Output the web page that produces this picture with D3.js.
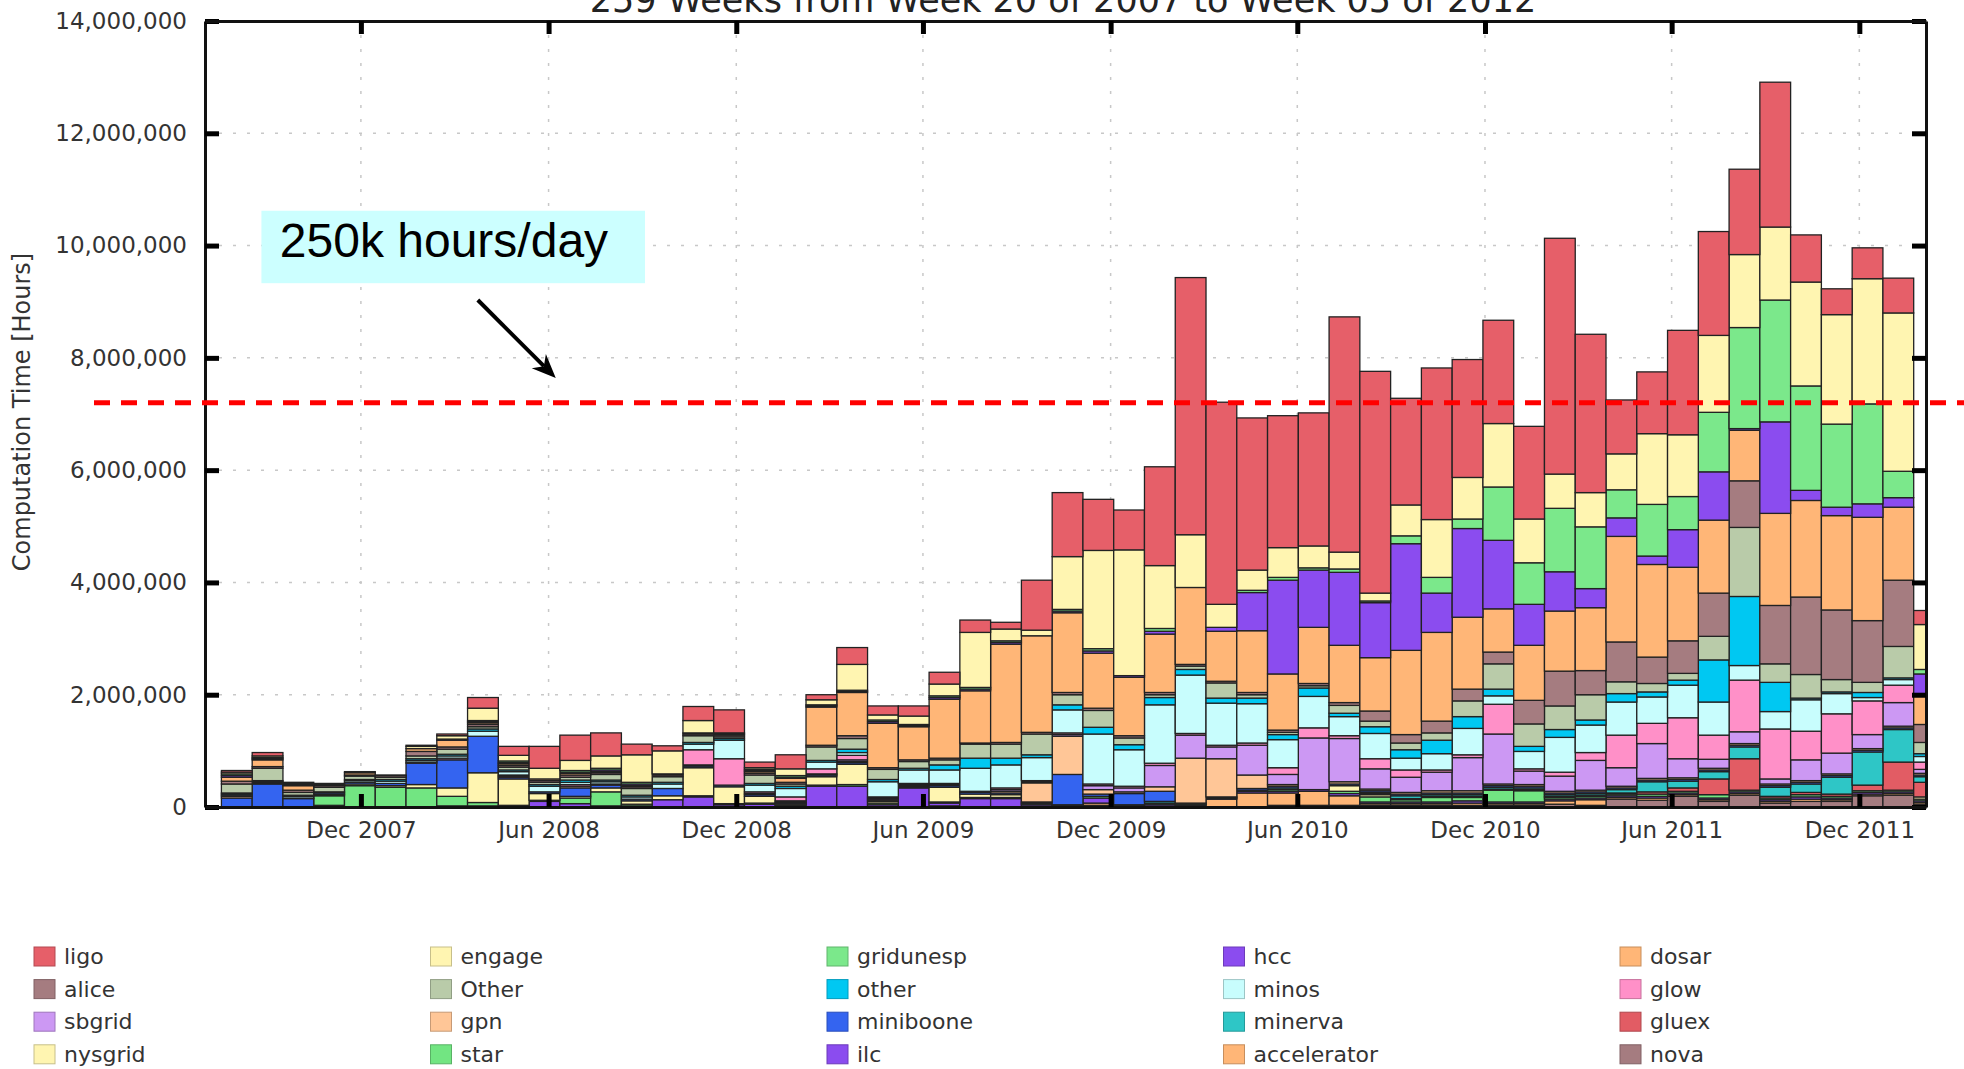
<!DOCTYPE html>
<html>
<head>
<meta charset="utf-8">
<script src="https://cdn.jsdelivr.net/npm/d3@7"></script>
<style>
  body { margin: 0; background: #fff; }
  svg { display: block; }
  text { font-family: "DejaVu Sans", sans-serif; }
</style>
</head>
<body>
<svg id="chart" width="1964" height="1069"></svg>
<script>
// 30-day periods (start dates); the last one is cut off by the end of the range
const periodStarts = [
  '2007-07-18','2007-08-17','2007-09-16','2007-10-16','2007-11-15','2007-12-15','2008-01-14','2008-02-13',
  '2008-03-14','2008-04-13','2008-05-13','2008-06-12','2008-07-12','2008-08-11','2008-09-10','2008-10-10',
  '2008-11-09','2008-12-09','2009-01-08','2009-02-07','2009-03-09','2009-04-08','2009-05-08','2009-06-07',
  '2009-07-07','2009-08-06','2009-09-05','2009-10-05','2009-11-04','2009-12-04','2010-01-03','2010-02-02',
  '2010-03-04','2010-04-03','2010-05-03','2010-06-02','2010-07-02','2010-08-01','2010-08-31','2010-09-30',
  '2010-10-30','2010-11-29','2010-12-29','2011-01-28','2011-02-27','2011-03-29','2011-04-28','2011-05-28',
  '2011-06-27','2011-07-27','2011-08-26','2011-09-25','2011-10-25','2011-11-24','2011-12-24','2012-01-23'
];
const rangeStart = '2007-07-02';
const rangeEnd = '2012-02-04';
const xTickDates = ['2007-12-01','2008-06-01','2008-12-01','2009-06-01','2009-12-01','2010-06-01','2010-12-01','2011-06-01','2011-12-01'];
const yTicks = [0, 2e6, 4e6, 6e6, 8e6, 10e6, 12e6, 14e6];
const targetLine = 7.2e6; // 250k hours/day

// values in millions of hours, one entry per period
const ligo = [.03,.06,.02,0,.02,0,.02,.03,.19,.16, .39,.45,.41,.19,.09,.25,.41,.1,.25,.09, .3,.16,.18,.21,.22,.12,.89,1.14,.91,.71, 1.76,4.58,3.6,2.71,2.35,2.37,4.19,3.95,1.9,2.7, 2.1,1.84,1.65,4.2,2.82,.96,1.1,1.86,1.85,1.52, 2.58,.84,.46,.55,.62,.25];
const engage = [.03,.03,.02,.02,0,0,.04,.06,.22,.1, .19,.18,.22,.49,.41,.22,.02,.03,.12,.09, .46,.09,.15,.21,.98,.21,.1,.94,1.75,2.24, 1.12,.94,.41,.36,.53,.39,.3,.14,.55,1.03, .74,1.13,.78,.61,.61,.64,1.26,1.1,1.37,1.3, 1.3,1.85,1.95,2.23,2.82,.8];
const gridunesp = [.03,.02,0,0,0,0,0,0,.02,.03, 0,.03,.03,.03,0,0,0,.02,.03,.02, .02,.03,.02,.03,.03,.03,0,.03,.04,0, .05,0,0,.04,.05,.04,.06,.03,.14,.28, .17,.95,.74,1.13,1.1,.5,.92,.59,1.06,1.8, 2.17,1.86,1.48,1.78,.47,.08];
const hcc = [.03,.02,.02,0,0,0,0,.02,.02,.02, 0,.02,.03,.03,0,0,0,.02,.02,.02, .02,.03,.02,.03,.03,.03,0,.03,.04,.03, .05,0,.07,.68,1.67,1.02,1.3,.98,1.9,.7, 1.58,1.22,.73,.7,.34,.33,.15,.67,.86,.03, 1.63,.18,.15,.24,.17,.4];
const dosar = [.07,.12,.08,.02,.04,.01,.05,.12,.03,.03, .03,.03,.02,.02,.02,.02,.02,.03,.07,.68, .77,.79,.59,1.05,.93,1.75,1.72,1.42,.98,1.04, 1.04,1.37,.89,1.1,1.0,1.0,1.02,.95,1.5,1.58, 1.28,.77,.98,1.07,1.12,1.88,1.65,1.31,1.3,.9, 1.64,1.72,1.68,1.84,1.3,.5];
const alice = [.05,.03,.04,.03,.02,.03,.08,.04,.04,.03, .03,.04,.03,.03,.03,.03,.03,.03,.03,.03, .05,.03,.03,.03,.02,.03,.03,.04,.04,.04, .04,.03,.03,.04,.04,.04,.05,.18,.15,.21, .21,.21,.42,.62,.43,.71,.47,.58,.77,.83, 1.04,1.38,1.24,1.1,1.18,.32];
const otherUpper = [.16,.22,.05,.08,.06,.04,.05,.09,.04,.05, .04,.05,.1,.12,.1,.12,.03,.15,.04,.24, .19,.18,.12,.09,.25,.25,.37,.18,.3,.12, .05,.06,.27,.06,.04,.04,.14,.1,.12,.13, .28,.45,.4,.42,.45,.21,.15,.12,.42,1.23, .33,.42,.22,.18,.56,.2];
const other = [.02,.02,.02,0,.02,.03,.03,.03,.04,.03, .03,.04,.03,.03,.03,.03,.03,.03,.04,.03, .06,.04,.03,.09,.18,.12,.05,.09,.12,.09, .13,.1,.09,.1,.09,.15,.06,.12,.15,.24, .21,.12,.09,.14,.09,.15,.09,.09,.75,1.23, .52,.03,.03,.09,.03,.05];
const minos = [.02,.02,.03,.02,.03,.04,.03,.04,.09,.06, .1,.04,.04,.04,.08,.1,.33,.12,.15,.12, .05,.27,.24,.24,.41,.41,.41,.41,.89,.65, 1.04,1.04,.75,.7,.5,.56,.34,.45,.21,.29, .47,.15,.31,.62,.49,.59,.47,.58,.59,.26, .31,.56,.36,.06,.1,.1];
const glow = [0,.02,.01,0,0,0,.02,.03,0,.02, 0,.03,.02,0,0,.27,.47,.03,.07,.09, .08,.02,.02,.02,.02,.03,.02,.03,.03,.03, .04,.03,.03,.04,.12,.18,.05,.18,.13,.04, .05,.53,.04,.07,.14,.58,.36,.73,.43,.92, .89,.51,.7,.6,.31,.13];
const sbgrid = [.02,0,0,0,0,0,0,0,0,0, 0,0,0,0,0,.02,0,.02,.02,.02, .03,.02,0,.02,0,.03,.02,.03,.07,.07, .38,.41,.21,.53,.18,.92,.77,.36,.27,.33, .59,.89,.24,.27,.53,.33,.62,.34,.16,.21, .09,.37,.37,.25,.42,.07];
const gpn = [.03,0,0,0,0,0,0,0,0,.02, 0,.03,0,0,0,0,0,0,0,0, .02,.02,0,0,0,.03,.34,.68,.08,.03, .08,.8,.68,.24,.03,0,.04,.03,.03,.04, .04,.03,.03,.03,.03,.03,.03,.03,.03,.03, .03,.03,.03,.03,.03,.03];
const miniboone = [.16,.41,.15,.03,.03,.04,.38,.5,.65,.03, .03,.15,.05,.03,.13,.03,.03,.03,.02,.03, .03,.02,.02,.03,.03,.03,.02,.54,.04,.2, .18,0,0,.03,.03,0,.03,.03,.03,.03, .03,.03,.03,.03,.03,.03,.03,.03,.03,.03, .03,.03,.03,.03,.03,.03];
const minerva = [0,0,0,0,0,0,0,0,0,0, 0,0,0,0,0,0,0,0,0,0, 0,0,0,0,0,0,0,0,0,0, .03,0,0,0,.03,0,0,.02,.05,.03, .03,.03,.03,.03,.03,.06,.18,.12,.13,.21, .16,.15,.3,.59,.58,.1];
const gluex = [0,0,0,0,0,0,0,0,0,0, 0,0,0,0,0,0,0,0,0,0, 0,0,0,0,0,0,0,0,0,0, 0,0,0,0,0,0,0,.02,.02,.02, .02,.02,.02,.02,.02,.02,.04,.06,.28,.56, .03,.04,.04,.1,.5,.26];
const nysgrid = [0,0,0,.02,.03,.03,.06,.15,.53,.47, .12,.03,.07,.06,.07,.5,.3,.12,.02,.15, .36,.03,.02,.26,.06,.05,0,0,0,0, 0,0,0,0,0,0,.1,.04,0,0, 0,0,0,0,0,0,0,0,0,0, 0,0,0,0,0,.04];
const star = [0,0,0,.17,.38,.35,.34,.17,.06,.02, .02,.1,.25,.03,0,.02,.02,.02,.02,.02, .03,.03,.02,.02,.02,.02,.02,.02,.03,.02, .02,.02,.02,.02,.03,0,.04,.09,.04,.08, .06,.21,.2,.03,.03,.03,.04,.03,.06,.03, .03,.04,.03,.03,.03,.03];
const ilc = [0,0,0,.02,0,0,0,.02,.02,.01, .1,.06,.02,.02,.13,.18,.04,.05,.03,.37, .37,.04,.34,.05,.15,.15,.03,.02,.09,.02, .03,.02,.02,.03,.03,.03,.04,.03,.03,.03, .04,.03,.03,.03,.03,.03,.03,.03,.03,.03, .03,.04,.03,.03,.03,.03];
const accelerator = [0,0,0,.01,0,0,0,0,0,0, 0,0,0,0,0,0,0,0,0,0, 0,0,0,.02,0,0,0,0,.04,0, .02,.03,.14,.25,.22,.25,.17,.03,.03,.03, .04,.03,.03,.06,.1,.03,.04,.03,.03,.03, .03,.04,.03,.03,.03,.03];
const nova = [0,0,0,0,0,0,0,0,0,0, 0,0,0,0,0,0,0,0,0,0, 0,0,0,0,0,0,.02,0,.03,0, 0,0,0,0,.03,.03,.03,.03,.03,.03, .03,.03,.03,.05,.03,.14,.12,.19,.1,.21, .07,.1,.1,.2,.21,.05];

// legend order (row by row); the stack runs the other way, nova at the bottom
const series = [
  { name: 'ligo', values: ligo, color: '#e65f69' },
  { name: 'engage', values: engage, color: '#fff5b1' },
  { name: 'gridunesp', values: gridunesp, color: '#7be88b' },
  { name: 'hcc', values: hcc, color: '#8b4cef' },
  { name: 'dosar', values: dosar, color: '#ffb677' },
  { name: 'alice', values: alice, color: '#a57c80' },
  { name: 'Other', values: otherUpper, color: '#b9cba9' },
  { name: 'other', values: other, color: '#00c8f2' },
  { name: 'minos', values: minos, color: '#c8fdfd' },
  { name: 'glow', values: glow, color: '#ff90c8' },
  { name: 'sbgrid', values: sbgrid, color: '#cc98f3' },
  { name: 'gpn', values: gpn, color: '#ffc697' },
  { name: 'miniboone', values: miniboone, color: '#3464f0' },
  { name: 'minerva', values: minerva, color: '#2ec6c6' },
  { name: 'gluex', values: gluex, color: '#e25c64' },
  { name: 'nysgrid', values: nysgrid, color: '#fff5b1' },
  { name: 'star', values: star, color: '#72e582' },
  { name: 'ilc', values: ilc, color: '#8b4cef' },
  { name: 'accelerator', values: accelerator, color: '#ffb677' },
  { name: 'nova', values: nova, color: '#a57c80' }
];

const parse = d3.timeParse('%Y-%m-%d');
const svg = d3.select('#chart');

const x = d3.scaleTime()
  .domain([parse(rangeStart), parse(rangeEnd)])
  .range([205, 1926]);

const y = d3.scaleLinear()
  .domain([0, 14e6])
  .range([807, 21]);

const table = periodStarts.map((d, i) => {
  const row = { start: parse(d) };
  series.forEach(s => { row[s.name] = s.values[i] * 1e6; });
  return row;
});

const keys = series.map(s => s.name).reverse();
const stacked = d3.stack().keys(keys)(table);
const colorOf = new Map(series.map(s => [s.name, s.color]));
const endOf = d => d3.min([d3.timeDay.offset(d.data.start, 30), x.domain()[1]]);

// grid
const grid = svg.append('g')
  .attr('stroke', '#c8c8c8')
  .attr('stroke-width', 1.5)
  .attr('stroke-dasharray', '3,11');

grid.selectAll('line.h')
  .data(yTicks.slice(1, -1))
  .join('line')
  .attr('x1', x.range()[0])
  .attr('x2', x.range()[1])
  .attr('y1', d => y(d))
  .attr('y2', d => y(d));

grid.selectAll('line.v')
  .data(xTickDates.map(parse))
  .join('line')
  .attr('x1', d => x(d))
  .attr('x2', d => x(d))
  .attr('y1', y.range()[1])
  .attr('y2', y.range()[0]);

// bars
svg.append('g')
  .selectAll('g')
  .data(stacked)
  .join('g')
  .attr('fill', d => colorOf.get(d.key))
  .selectAll('rect')
  .data(d => d.filter(p => p[1] > p[0]))
  .join('rect')
  .attr('x', d => x(d.data.start))
  .attr('width', d => x(endOf(d)) - x(d.data.start))
  .attr('y', d => y(d[1]))
  .attr('height', d => y(d[0]) - y(d[1]))
  .attr('stroke', '#222')
  .attr('stroke-width', 1.3);

// axes
const styleAxis = g => {
  g.select('.domain').attr('stroke', '#111').attr('stroke-width', 3);
  g.selectAll('.tick line').attr('stroke', '#000').attr('stroke-width', 5);
  g.selectAll('.tick text')
    .attr('fill', '#333')
    .style('font-family', '"DejaVu Sans", sans-serif')
    .style('font-size', '23px');
};

svg.append('g')
  .attr('transform', 'translate(205,0)')
  .call(d3.axisLeft(y).tickValues(yTicks).tickFormat(d3.format(',')).tickSizeInner(-14).tickSizeOuter(0).tickPadding(18))
  .call(styleAxis);

svg.append('g')
  .attr('transform', 'translate(1926,0)')
  .call(d3.axisRight(y).tickValues(yTicks).tickFormat('').tickSizeInner(-14).tickSizeOuter(0))
  .call(styleAxis);

svg.append('g')
  .attr('transform', 'translate(0,807)')
  .call(d3.axisBottom(x).tickValues(xTickDates.map(parse)).tickFormat(d3.timeFormat('%b %Y')).tickSizeInner(-13).tickSizeOuter(0).tickPadding(15))
  .call(styleAxis);

svg.append('g')
  .attr('transform', 'translate(0,21)')
  .call(d3.axisTop(x).tickValues(xTickDates.map(parse)).tickFormat('').tickSizeInner(-13).tickSizeOuter(0))
  .call(styleAxis);

// title, cut off at the top edge
svg.append('text')
  .attr('x', 1063)
  .attr('y', 12)
  .attr('text-anchor', 'middle')
  .attr('fill', '#222')
  .style('font-size', '35px')
  .text('259 Weeks from Week 20 of 2007 to Week 05 of 2012');

svg.append('text')
  .attr('transform', 'translate(30,412) rotate(-90)')
  .attr('text-anchor', 'middle')
  .attr('fill', '#333')
  .style('font-size', '24px')
  .text('Computation Time [Hours]');

// 250k hours/day reference
svg.append('line')
  .attr('x1', 94)
  .attr('x2', 1964)
  .attr('y1', y(targetLine))
  .attr('y2', y(targetLine))
  .attr('stroke', '#ff0000')
  .attr('stroke-width', 5)
  .attr('stroke-dasharray', '16,11');

const noteBox = { from: '2007-08-26', to: '2008-09-03', top: 10.62e6, bottom: 9.33e6 };
svg.append('rect')
  .attr('x', x(parse(noteBox.from)))
  .attr('y', y(noteBox.top))
  .attr('width', x(parse(noteBox.to)) - x(parse(noteBox.from)))
  .attr('height', y(noteBox.bottom) - y(noteBox.top))
  .attr('fill', '#ccffff');

svg.append('text')
  .attr('x', x(parse('2007-09-13')))
  .attr('y', y(9.8e6))
  .attr('fill', '#000')
  .style('font-family', '"Liberation Sans", Arial, sans-serif')
  .style('font-size', '48px')
  .text('250k hours/day');

const arrowFrom = [x(parse('2008-03-24')), y(9.03e6)];
const arrowTo = [x(parse('2008-06-08')), y(7.64e6)];
const ang = Math.atan2(arrowTo[1] - arrowFrom[1], arrowTo[0] - arrowFrom[0]);
const headLen = 24, headHalf = 10;
const back = [arrowTo[0] - headLen * Math.cos(ang), arrowTo[1] - headLen * Math.sin(ang)];
const notch = [arrowTo[0] - headLen * 0.7 * Math.cos(ang), arrowTo[1] - headLen * 0.7 * Math.sin(ang)];

svg.append('line')
  .attr('x1', arrowFrom[0])
  .attr('y1', arrowFrom[1])
  .attr('x2', notch[0])
  .attr('y2', notch[1])
  .attr('stroke', '#000')
  .attr('stroke-width', 4);

svg.append('path')
  .attr('d', d3.line()([
    arrowTo,
    [back[0] + headHalf * Math.sin(ang), back[1] - headHalf * Math.cos(ang)],
    notch,
    [back[0] - headHalf * Math.sin(ang), back[1] + headHalf * Math.cos(ang)]
  ]) + 'Z')
  .attr('fill', '#000');

// legend, 5 columns filled row by row
const legend = svg.append('g')
  .selectAll('g')
  .data(series)
  .join('g')
  .attr('transform', (d, i) => `translate(${34 + (i % 5) * 396.5},${956 + Math.floor(i / 5) * 32.6})`);

legend.append('rect')
  .attr('x', 0)
  .attr('y', -9)
  .attr('width', 21)
  .attr('height', 19)
  .attr('fill', d => d.color)
  .attr('stroke', d => d3.color(d.color).darker(0.7))
  .attr('stroke-width', 1);

legend.append('text')
  .attr('x', 30)
  .attr('dy', '0.36em')
  .attr('fill', '#333')
  .style('font-size', '22px')
  .text(d => d.name);
</script>
</body>
</html>
